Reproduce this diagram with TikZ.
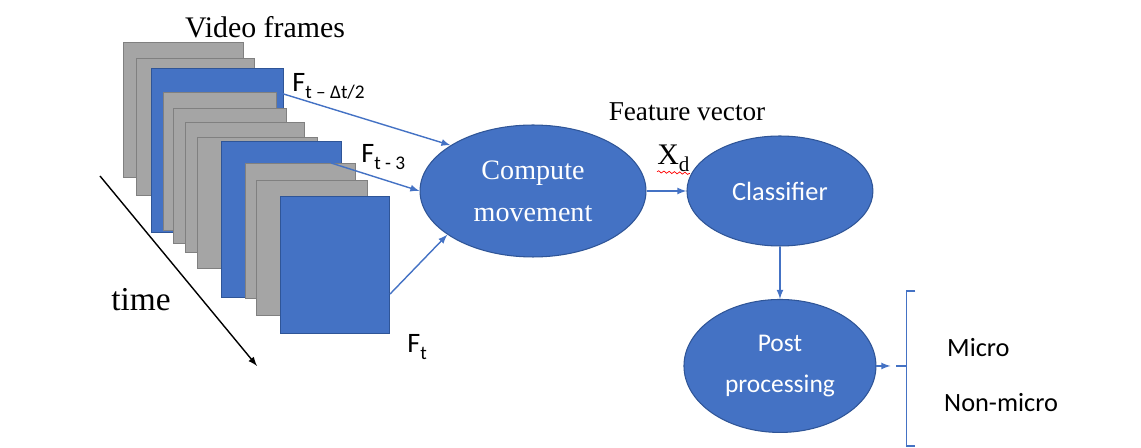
\documentclass[tikz,border=0pt]{standalone}
\usepackage{fontspec}
\setmainfont{Liberation Serif}
\newfontfamily\calibri{Carlito}
\usetikzlibrary{positioning,shapes.geometric,decorations.pathmorphing}
\tikzset{>=latex}
\definecolor{ofblue}{HTML}{4472C4}
\definecolor{ofdark}{HTML}{2F5597}
\definecolor{ofgray}{HTML}{A5A5A5}
\definecolor{ofgrayd}{HTML}{808080}
\newcommand{\fs}[2]{\fontsize{#1}{#2}\selectfont}
\newcommand{\lowsub}[1]{\raisebox{-0.5ex}{\fs{11}{13}#1}}

\begin{document}
\begin{tikzpicture}[x=0.02cm, y=-0.02cm,
    frm/.style={draw, line width=0.6pt, anchor=north west, inner sep=0pt},
    blob/.style={ellipse, draw=ofdark, fill=ofblue, inner sep=0pt, text=white, align=center, line width=0.6pt},
    flow/.style={->, draw=ofblue, line width=0.8pt},
    lbl/.style={font=\calibri\fs{16}{18}, anchor=base west, inner sep=0pt}]
  \useasboundingbox (0,0) rectangle (1141,448);
  % stack of frames, back to front
  \foreach \n/\x/\y/\w/\h/\f/\d in {1/123/42/2.4/2.7/ofgray/ofgrayd, 2/136/58/2.36/2.74/ofgray/ofgrayd,
      3/151/68/2.64/3.28/ofblue/ofdark, 4/163/92/2.26/2.76/ofgray/ofgrayd, 5/173/108/2.26/2.7/ofgray/ofgrayd,
      6/185/122/2.38/2.6/ofgray/ofgrayd, 7/197/137/2.4/2.62/ofgray/ofgrayd, 8/221/141/2.4/3.12/ofblue/ofdark,
      9/245/163/2.2/2.7/ofgray/ofgrayd, 10/256/180/2.22/2.7/ofgray/ofgrayd, 11/280/196/2.18/2.74/ofblue/ofdark}
    \node[frm, fill=\f, draw=\d, minimum width=\w cm, minimum height=\h cm] (f\n) at (\x,\y) {};
  \node[font=\fs{17}{20}] (title) at (265,27) {Video frames};
  \coordinate (t0) at (100,176);
  \coordinate (t1) at (257,366);
  \draw[->, line width=0.8pt] (t0) -- (t1);
  \node[font=\fs{19}{22}] (time) at (141,300) {time};
  \node[lbl] (l1) at (292,92) {F\lowsub{t – Δt/2}};
  \node[lbl] (l2) at (361,163) {F\lowsub{t - 3}};
  \node[lbl] (l3) at (407,353) {F\lowsub{t}};

  \node[blob, minimum width=4.52cm, minimum height=2.64cm, font=\fs{16}{24}] (move) at (533,191) {Compute\\movement};
  \node[blob, right of=move, node distance=4.94cm, minimum width=3.72cm, minimum height=2.2cm, font=\calibri\fs{15}{18}] (clf) {Classifier};
  \node[blob, below of=clf, node distance=3.5cm, minimum width=3.84cm, minimum height=2.66cm, font=\calibri\fs{14.5}{23}] (post) {Post\\processing};
  \node[font=\fs{15.5}{18}] (feat) at (687,112) {Feature vector};
  \node[font=\fs{17}{20}, anchor=base west, inner sep=0pt] (xd) at (657,165) {X\raisebox{-0.45ex}{\fs{12}{14}d}};
  \draw[red, line width=0.4pt, decorate, decoration={snake, amplitude=0.6pt, segment length=3pt}] (xd.south west) -- ([yshift=-1pt]xd.south east);

  \draw[flow] (f4.north east) -- (move.151);
  \draw[flow] ([xshift=-0.5cm]f9.north east) -- (move.west);
  \draw[flow] ([yshift=0.8cm]f11.south east) -- (move.207);
  \draw[flow] (move.east) -- (clf.west);
  \draw[flow] (clf.south) -- (post.north);

  \coordinate[right=0.28cm of post.east] (tip);
  \coordinate[right=0.6cm of post.east] (brk);
  \draw[flow] (post.east) -- (tip);
  \draw[ofblue, line width=0.8pt] ([xshift=0.12cm]tip) -- (brk);
  \draw[ofblue, line width=0.8pt] ([xshift=0.18cm, yshift=1.5cm]brk) -- ++(-0.18cm,0) -- ([yshift=-1.6cm]brk) -- ++(0.18cm,0);
  \node[font=\calibri\fs{15}{18}, anchor=west] (micro) at (941,348) {Micro};
  \node[font=\calibri\fs{15}{18}, anchor=west] (nonmicro) at (938,403) {Non-micro};
\end{tikzpicture}
\end{document}
